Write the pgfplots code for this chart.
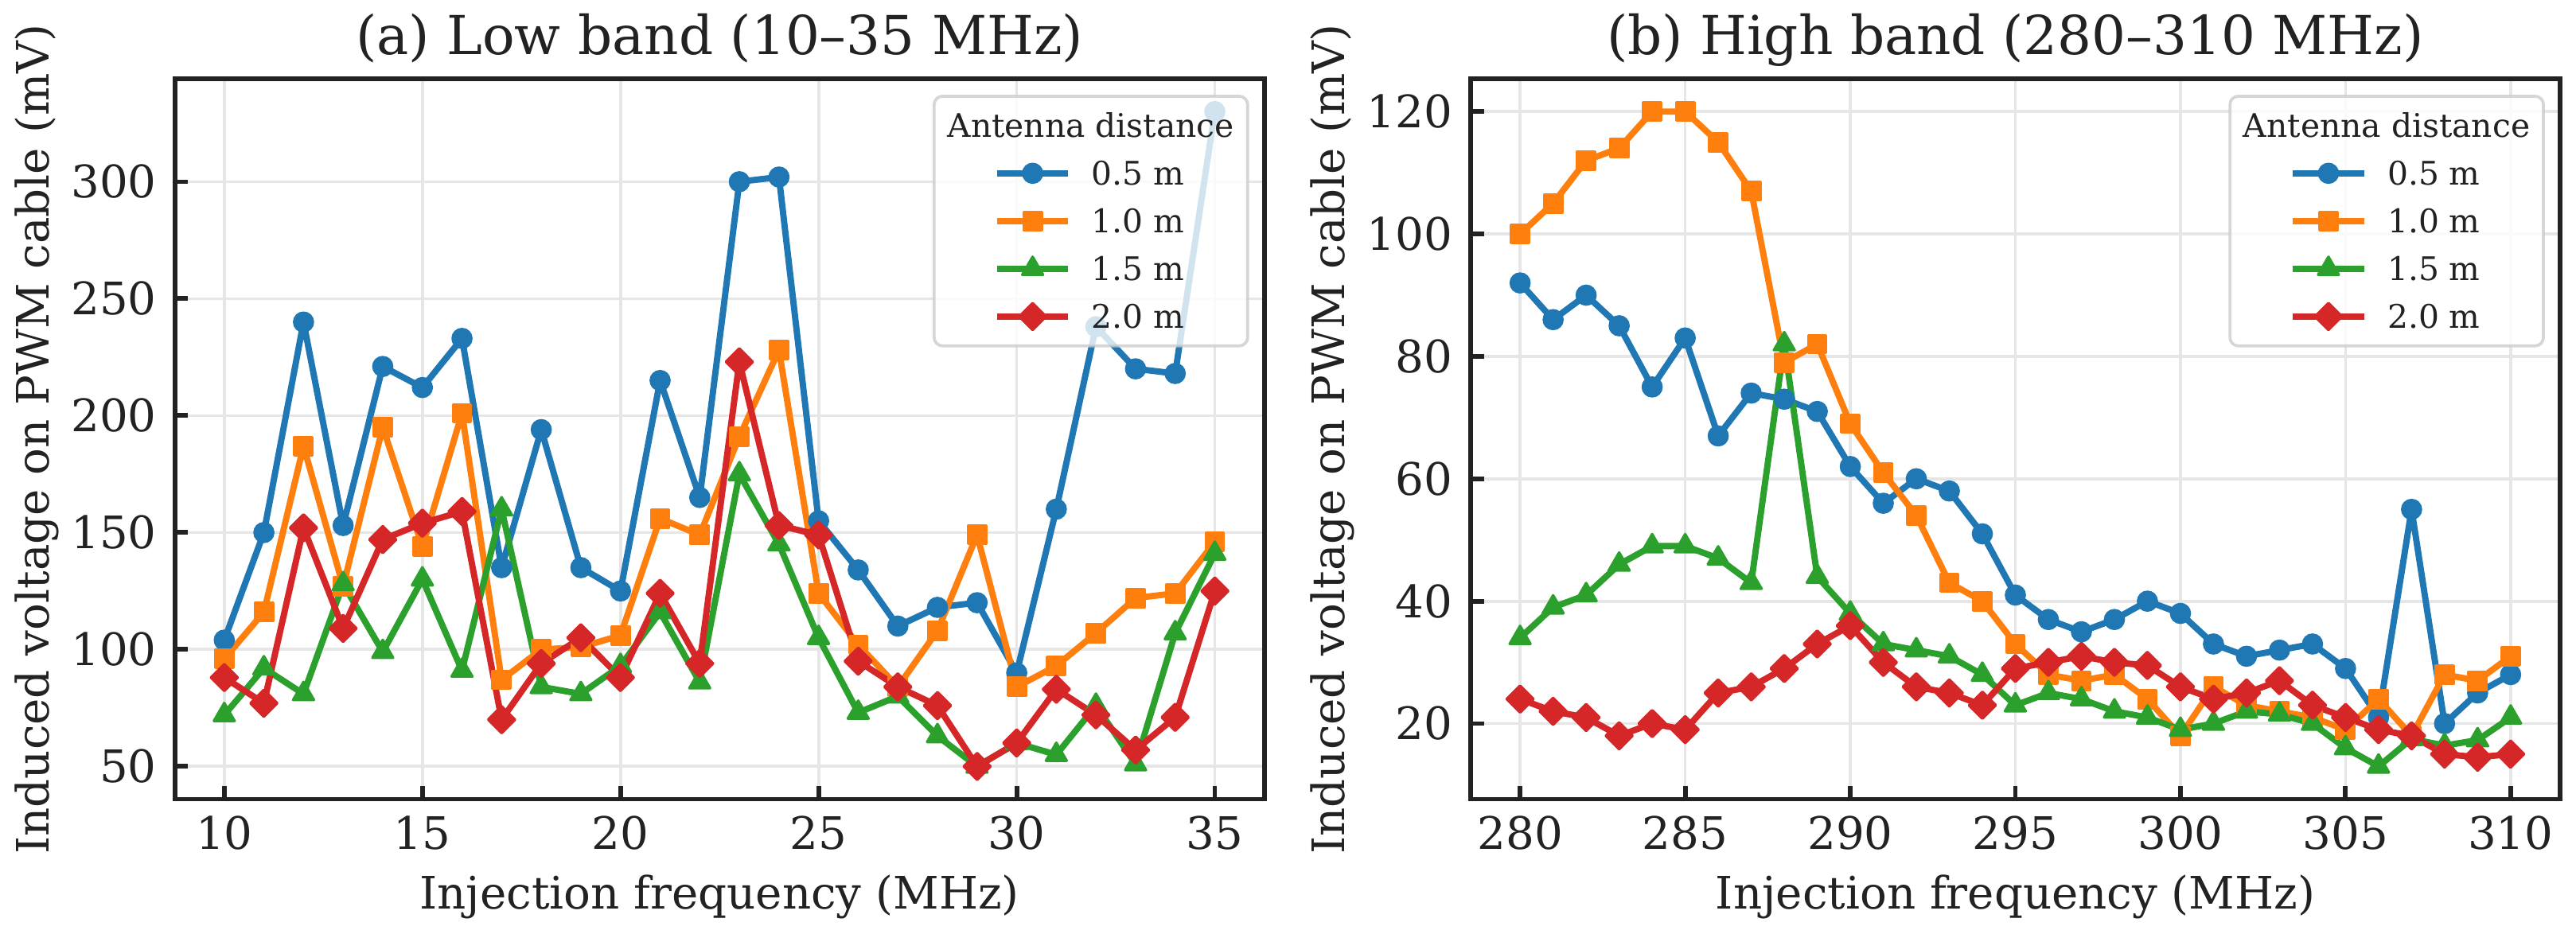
\documentclass[border=0pt]{standalone}
\usepackage{fontspec}
\setmainfont{DejaVu Serif}
\usepackage{pgfplots}
\pgfplotsset{compat=1.18}
\definecolor{c1}{HTML}{1F77B4}
\definecolor{c2}{HTML}{FF7F0E}
\definecolor{c3}{HTML}{2CA02C}
\definecolor{c4}{HTML}{D62728}
\definecolor{txt}{HTML}{222222}
\definecolor{gridc}{HTML}{E6E6E6}
\definecolor{legc}{HTML}{CCCCCC}
\pgfplotsset{
  myaxis/.style={
    scale only axis, width=328.6pt, height=217.3pt, anchor=south west,
    axis line style={line width=1.4pt, color=txt},
    tick align=inside, tick pos=left,
    major tick length=4pt,
    tick style={line width=1.4pt, color=txt},
    grid=major, grid style={line width=0.9pt, color=gridc},
    /pgf/number format/assume math mode=true,
    tick label style={font=\fontsize{13.5}{16}\selectfont, text=txt, inner sep=0pt},
    xticklabel style={yshift=-5pt},
    yticklabel style={xshift=-5.3pt},
    every axis title/.style={at={(axis description cs:0.5,1)}, yshift=7.4pt, anchor=base, inner sep=0pt, font=\fontsize{16.2}{19}\selectfont, text=txt},
    every axis x label/.style={at={(axis description cs:0.5,0)}, yshift=-33pt, anchor=base, inner sep=0pt, font=\fontsize{13.5}{16}\selectfont, text=txt},
    every axis y label/.style={at={(axis description cs:0,0.5)}, xshift=-38pt, rotate=90, anchor=base, inner sep=0pt, font=\fontsize{13.5}{16}\selectfont, text=txt},
    legend cell align=left,
    legend image code/.code={
      \begin{pgfinterruptboundingbox}
      \draw[sharp corners, opacity=1, fill=none, mark repeat=2, mark phase=2, ##1] plot coordinates {(0pt,0pt) (10.7pt,0pt) (21.4pt,0pt)};
      \end{pgfinterruptboundingbox}
      \path[draw=none, fill=none] (-15pt,-3.55pt) rectangle (21.4pt,3.55pt);
    },
    legend style={at={(1,1)}, anchor=north east, xshift=-4.6pt, yshift=-4.8pt,
      font=\fontsize{9.8}{11.8}\selectfont, text=txt,
      draw=legc, line width=0.9pt, rounded corners=2.5pt,
      fill=white, fill opacity=0.8, draw opacity=0.8, text opacity=1,
      inner xsep=4pt, inner ysep=5.3pt, row sep=7.3pt, column sep=7.1pt,
      nodes={inner sep=0pt, text height=7.1pt, text depth=0pt}},
  },
  s1/.style={color=c1, line width=1.9pt, line join=round, mark=*, mark size=2.8pt, mark options={solid, line width=0.8pt}},
  s2/.style={color=c2, line width=1.9pt, line join=round, mark=square*, mark size=2.7pt, mark options={solid, line width=0.8pt}},
  s3/.style={color=c3, line width=1.9pt, line join=round, mark=triangle*, mark size=3.6pt, mark options={solid, line width=0.8pt}},
  s4/.style={color=c4, line width=1.9pt, line join=round, mark=square*, mark size=2.85pt, mark options={solid, rotate=45, line width=0.8pt}},
}
\begin{document}
\begin{tikzpicture}
\path[use as bounding box] (0,0) rectangle (776.88pt,281.52pt);
\begin{axis}[myaxis, at={(52.7pt,40.44pt)},
  xmin=8.75, xmax=36.25, ymin=36, ymax=344,
  xtick={10,15,20,25,30,35}, ytick={50,100,150,200,250,300},
  title={(a) Low band (10--35 MHz)},
  xlabel={Injection frequency (MHz)},
  ylabel={Induced voltage on PWM cable (mV)}]
\addlegendimage{empty legend}
\addlegendentry{\hspace*{-43.5pt}Antenna distance}
\addplot[s1] coordinates {(10,104)(11,150)(12,240)(13,153)(14,221)(15,212)(16,233)(17,135)(18,194)(19,135)(20,125)(21,215)(22,165)(23,300)(24,302)(25,155)(26,134)(27,110)(28,118)(29,120)(30,90)(31,160)(32,238)(33,220)(34,218)(35,330)};
\addlegendentry{0.5 m}
\addplot[s2] coordinates {(10,96)(11,116)(12,187)(13,127)(14,195)(15,144)(16,201)(17,87)(18,100)(19,101)(20,106)(21,156)(22,149)(23,191)(24,228)(25,124)(26,102)(27,84)(28,108)(29,149)(30,84)(31,93)(32,107)(33,122)(34,124)(35,146)};
\addlegendentry{1.0 m}
\addplot[s3] coordinates {(10,72)(11,92)(12,81)(13,128)(14,99)(15,130)(16,91)(17,160)(18,84)(19,81)(20,93)(21,116)(22,86)(23,175)(24,145)(25,105)(26,73)(27,80)(28,63)(29,50)(30,60)(31,55)(32,76)(33,51)(34,107)(35,141)};
\addlegendentry{1.5 m}
\addplot[s4] coordinates {(10,88)(11,77)(12,152)(13,109)(14,147)(15,154)(16,159)(17,70)(18,94)(19,105)(20,88)(21,124)(22,94)(23,223)(24,153)(25,149)(26,95)(27,84)(28,76)(29,50)(30,60)(31,83)(32,72)(33,57)(34,71)(35,125)};
\addlegendentry{2.0 m}
\end{axis}
\begin{axis}[myaxis, at={(443.5pt,40.44pt)},
  xmin=278.5, xmax=311.5, ymin=7.65, ymax=125.35,
  xtick={280,285,290,295,300,305,310}, ytick={20,40,60,80,100,120},
  title={(b) High band (280--310 MHz)},
  xlabel={Injection frequency (MHz)},
  ylabel={Induced voltage on PWM cable (mV)}]
\addlegendimage{empty legend}
\addlegendentry{\hspace*{-43.5pt}Antenna distance}
\addplot[s1] coordinates {(280,92)(281,86)(282,90)(283,85)(284,75)(285,83)(286,67)(287,74)(288,73)(289,71)(290,62)(291,56)(292,60)(293,58)(294,51)(295,41)(296,37)(297,35)(298,37)(299,40)(300,38)(301,33)(302,31)(303,32)(304,33)(305,29)(306,21)(307,55)(308,20)(309,25)(310,28)};
\addlegendentry{0.5 m}
\addplot[s2] coordinates {(280,100)(281,105)(282,112)(283,114)(284,120)(285,120)(286,115)(287,107)(288,79)(289,82)(290,69)(291,61)(292,54)(293,43)(294,40)(295,33)(296,28)(297,27)(298,28)(299,24)(300,18)(301,26)(302,23)(303,22)(304,21)(305,19)(306,24)(307,18)(308,28)(309,27)(310,31)};
\addlegendentry{1.0 m}
\addplot[s3] coordinates {(280,34)(281,39)(282,41)(283,46)(284,49)(285,49)(286,47)(287,43)(288,82)(289,44)(290,38)(291,33)(292,32)(293,31)(294,28)(295,23)(296,25)(297,24)(298,22)(299,21)(300,19)(301,20)(302,22)(303,21.5)(304,20)(305,16)(306,13)(307,17.5)(308,16.4)(309,17.3)(310,21)};
\addlegendentry{1.5 m}
\addplot[s4] coordinates {(280,24)(281,22)(282,21)(283,18)(284,20)(285,19)(286,25)(287,26)(288,29)(289,33)(290,36)(291,30)(292,26)(293,25)(294,23)(295,29)(296,30)(297,31)(298,30)(299,29.5)(300,26)(301,24)(302,25)(303,27)(304,23)(305,21)(306,19)(307,18)(308,15)(309,14.5)(310,15)};
\addlegendentry{2.0 m}
\end{axis}
\end{tikzpicture}
\end{document}
